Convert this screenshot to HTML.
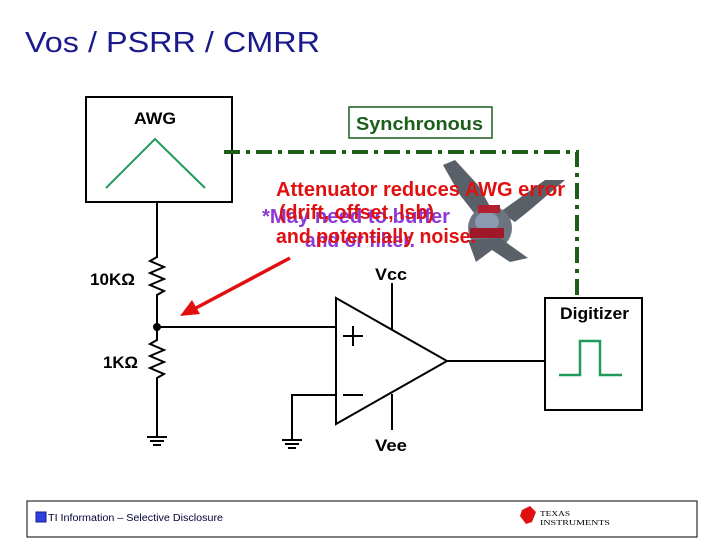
<!DOCTYPE html>
<html><head><meta charset="utf-8"><style>
body{margin:0;background:#fff;}
svg{display:block;font-family:"Liberation Sans",sans-serif;}
</style></head><body>
<svg width="720" height="540" viewBox="0 0 720 540" xmlns="http://www.w3.org/2000/svg">
<text x="25" y="52" font-size="29" fill="#1a1a8c" textLength="295" lengthAdjust="spacingAndGlyphs">Vos / PSRR / CMRR</text>
<!-- AWG -->
<rect x="86" y="97" width="146" height="105" fill="#fff" stroke="#000" stroke-width="2"/>
<text x="134" y="124" font-size="17" font-weight="bold" textLength="42" lengthAdjust="spacingAndGlyphs">AWG</text>
<polyline points="106,188 155,139 205,188" fill="none" stroke="#1f9a5a" stroke-width="2"/>
<!-- sync line -->
<polyline points="224,152 577,152 577,296" fill="none" stroke="#1a5e1a" stroke-width="4" stroke-dasharray="16,6,4,6"/>
<rect x="349" y="107" width="143" height="31" fill="#fff" stroke="#1a5e1a" stroke-width="1.5"/>
<text x="356" y="130" font-size="18" font-weight="bold" fill="#1a5e1a" textLength="127" lengthAdjust="spacingAndGlyphs">Synchronous</text>
<!-- resistor chain -->
<polyline points="157,202 157,257 150,261 164,267 150,273 164,279 150,285 164,291 157,295 157,340 150,344 164,350 150,356 164,362 150,368 164,374 157,378 157,437" fill="none" stroke="#000" stroke-width="2"/>
<line x1="147" y1="437" x2="167" y2="437" stroke="#000" stroke-width="2"/>
<line x1="150" y1="441" x2="164" y2="441" stroke="#000" stroke-width="2"/>
<line x1="153" y1="445" x2="161" y2="445" stroke="#000" stroke-width="2"/>
<circle cx="157" cy="327" r="4" fill="#000"/>
<line x1="157" y1="327" x2="336" y2="327" stroke="#000" stroke-width="2"/>
<text x="90" y="285" font-size="17" font-weight="bold" textLength="45" lengthAdjust="spacingAndGlyphs">10KΩ</text>
<text x="103" y="368" font-size="17" font-weight="bold" textLength="35" lengthAdjust="spacingAndGlyphs">1KΩ</text>
<!-- opamp -->
<polygon points="336,298 336,424 447,361" fill="#fff" stroke="#000" stroke-width="2"/>
<line x1="392" y1="283" x2="392" y2="329" stroke="#000" stroke-width="2"/>
<line x1="392" y1="394" x2="392" y2="430" stroke="#000" stroke-width="2"/>
<line x1="343" y1="336" x2="363" y2="336" stroke="#000" stroke-width="2"/>
<line x1="353" y1="326" x2="353" y2="346" stroke="#000" stroke-width="2"/>
<line x1="343" y1="395" x2="363" y2="395" stroke="#000" stroke-width="2"/>
<text x="375" y="280" font-size="17" font-weight="bold" textLength="32" lengthAdjust="spacingAndGlyphs">Vcc</text>
<text x="375" y="451" font-size="17" font-weight="bold" textLength="32" lengthAdjust="spacingAndGlyphs">Vee</text>
<polyline points="336,395 292,395 292,440" fill="none" stroke="#000" stroke-width="2"/>
<line x1="282" y1="440" x2="302" y2="440" stroke="#000" stroke-width="2"/>
<line x1="285" y1="444" x2="299" y2="444" stroke="#000" stroke-width="2"/>
<line x1="288" y1="448" x2="296" y2="448" stroke="#000" stroke-width="2"/>
<line x1="447" y1="361" x2="545" y2="361" stroke="#000" stroke-width="2"/>
<!-- digitizer -->
<rect x="545" y="298" width="97" height="112" fill="#fff" stroke="#000" stroke-width="2"/>
<text x="560" y="319" font-size="17" font-weight="bold" textLength="69" lengthAdjust="spacingAndGlyphs">Digitizer</text>
<polyline points="559,375 580,375 580,341 600,341 600,375 622,375" fill="none" stroke="#1f9a5a" stroke-width="2.5"/>
<!-- monster -->
<g fill="#5a6068">
<polygon points="443,165 455,160 478,185 492,210 478,218 460,195"/>
<polygon points="500,212 545,180 565,180 530,210 515,222"/>
<ellipse cx="490" cy="228" rx="22" ry="22" fill="#6b7480"/>
<ellipse cx="487" cy="222" rx="12" ry="10" fill="#8a9ab0"/>
<polygon points="468,240 500,238 528,258 510,262 492,250 476,262"/>
<rect x="478" y="205" width="22" height="8" fill="#b02030"/>
<rect x="470" y="228" width="34" height="10" fill="#a01828"/>
</g>
<!-- texts -->
<g font-size="20" font-weight="bold">
<text x="262" y="223" fill="#8a3ad6" textLength="188" lengthAdjust="spacingAndGlyphs">*May need to buffer</text>
<text x="305" y="247" fill="#8a3ad6" textLength="110" lengthAdjust="spacingAndGlyphs">and or filter.</text>
<text x="276" y="196" fill="#e01010" textLength="289" lengthAdjust="spacingAndGlyphs">Attenuator reduces AWG error</text>
<text x="279" y="219" fill="#e01010" textLength="155" lengthAdjust="spacingAndGlyphs">(drift, offset, lsb)</text>
<text x="276" y="243" fill="#e01010" textLength="200" lengthAdjust="spacingAndGlyphs">and potentially noise.</text>
</g>
<!-- arrow -->
<line x1="290" y1="258" x2="196" y2="308" stroke="#e01010" stroke-width="3.5"/>
<polygon points="180,316 192,300 200,314" fill="#e01010"/>
<!-- footer -->
<rect x="27" y="501" width="670" height="36" fill="none" stroke="#000" stroke-width="1"/>
<rect x="36" y="512" width="10" height="10" fill="#3040e0" stroke="#102080"/>
<text x="48" y="521" font-size="10" fill="#000033" textLength="175" lengthAdjust="spacingAndGlyphs">TI Information – Selective Disclosure</text>
<polygon points="522,510 530,506 536,512 532,522 526,524 520,516" fill="#e01010"/>
<text x="540" y="516" font-size="7" font-family="Liberation Serif" textLength="30" lengthAdjust="spacingAndGlyphs">TEXAS</text>
<text x="540" y="525" font-size="7" font-family="Liberation Serif" textLength="70" lengthAdjust="spacingAndGlyphs">INSTRUMENTS</text>
</svg>
</body></html>
